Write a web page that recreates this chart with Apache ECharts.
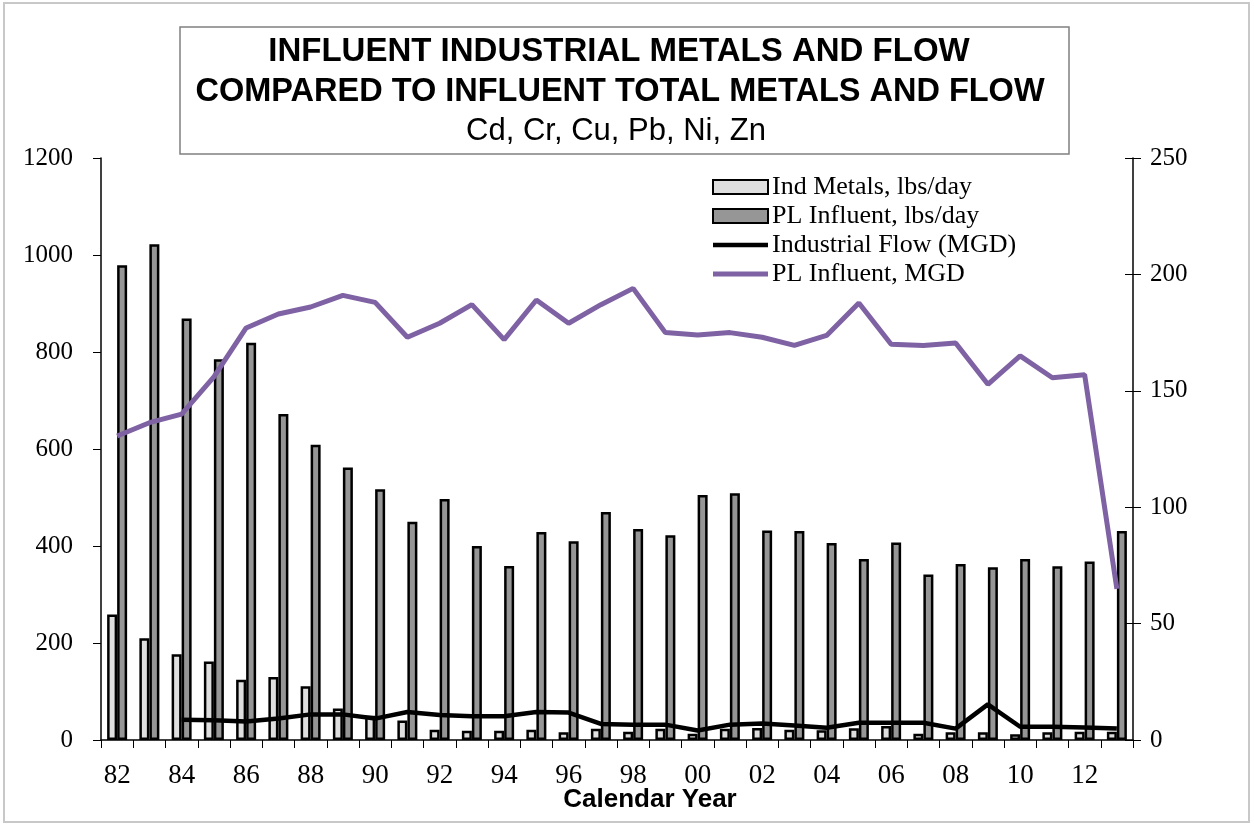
<!DOCTYPE html>
<html>
<head>
<meta charset="utf-8">
<script src="https://cdn.jsdelivr.net/npm/echarts@6/dist/echarts.min.js"></script>
<style>
html,body{margin:0;padding:0;background:#fff;}
#chart{width:1254px;height:825px;}
</style>
</head>
<body>
<div id="chart"></div>
<script>
// Calendar years (category tick labels)
const years = ['82','83','84','85','86','87','88','89','90','91','92','93','94','95','96','97','98','99','00','01','02','03','04','05','06','07','08','09','10','11','12','13'];
// Ind Metals, lbs/day (left axis)
const indMetals = [259,210,177,162,124,130,111,65,50,40,21,19,19,21,16,23,17,23,13,23,25,21,20,24,29,13,16,16,12,16,17,17];
// PL Influent, lbs/day (left axis)
const plInfluentLbs = [979,1022,869,785,819,672,609,562,517,450,497,400,359,429,410,470,435,422,505,509,432,431,406,373,407,341,363,356,373,358,368,431];
// Industrial Flow (MGD) (right axis)
const industrialFlow = [null,null,8.7,8.5,7.9,9.2,11,11,9.2,12,10.7,10.2,10.2,12,11.8,6.9,6.6,6.6,4.1,6.6,7.1,6.2,5.3,7.4,7.4,7.4,4.9,15.3,5.7,5.7,5.4,4.9];
// PL Influent, MGD (right axis)
const plInfluentMgd = [130.6,136.3,140,156,177,183,186,191,188,173,179,187,172,189,179,187,194,175,174,175,173,169.5,173.8,187.7,170,169.5,170.5,152.8,165,155.6,156.9,64.9];

const SERIF = "'Liberation Serif', 'Times New Roman', serif";
const SANS = "'Liberation Sans', Arial, sans-serif";

const chart = echarts.init(document.getElementById('chart'), null, {renderer:'canvas'});
const option = {
  animation:false,
  backgroundColor:'#ffffff',
  graphic:[
    {type:'rect', shape:{x:4,y:3,width:1245,height:819}, style:{fill:'none', stroke:'#c8c8c8', lineWidth:2}, silent:true},
    {type:'rect', shape:{x:180,y:27,width:889,height:127}, style:{fill:'#fff', stroke:'#808080', lineWidth:1.5}, silent:true},
    {type:'text', x:619, y:52, style:{text:'INFLUENT INDUSTRIAL METALS AND FLOW', font:"bold 33px "+SANS, fill:'#000', align:'center', verticalAlign:'middle'}},
    {type:'text', x:620, y:92, style:{text:'COMPARED TO INFLUENT TOTAL METALS AND FLOW', font:"bold 32.5px "+SANS, fill:'#000', align:'center', verticalAlign:'middle'}},
    {type:'text', x:616, y:131, style:{text:'Cd, Cr, Cu, Pb, Ni, Zn', font:"31px "+SANS, fill:'#000', align:'center', verticalAlign:'middle'}},
    {type:'text', x:650, y:800, style:{text:'Calendar Year', font:"bold 26px "+SANS, fill:'#000', align:'center', verticalAlign:'middle'}}
  ],
  legend:{
    orient:'vertical', left:707, top:169, itemWidth:55, itemHeight:14, itemGap:3,
    symbolKeepAspect:true,
    textStyle:{fontFamily:SERIF, fontSize:26, lineHeight:26, color:'#000', padding:[0,0,0,-1]},
    data:[
      {name:'Ind Metals, lbs/day', icon:'rect'},
      {name:'PL Influent, lbs/day', icon:'rect'},
      {name:'Industrial Flow (MGD)', icon:'path://M0,0 L55,0 L55,4.5 L0,4.5 Z'},
      {name:'PL Influent, MGD', icon:'path://M0,0 L55,0 L55,5 L0,5 Z'}
    ]
  },
  grid:{left:101, right:121, top:158, bottom:85, containLabel:false},
  xAxis:{
    type:'category', data:years, boundaryGap:true,
    axisLine:{lineStyle:{color:'#000', width:1.5}},
    axisTick:{show:true, interval:0, alignWithLabel:false, length:8, lineStyle:{color:'#000'}},
    axisLabel:{interval:1, margin:22, fontFamily:SERIF, fontSize:27, color:'#000'},
    splitLine:{show:false}
  },
  yAxis:[
    {type:'value', position:'left', min:0, max:1200, interval:200,
     axisLine:{show:true, lineStyle:{color:'#000', width:1.5}},
     axisTick:{show:true, length:8, lineStyle:{color:'#000'}},
     axisLabel:{margin:28, fontFamily:SERIF, fontSize:25, color:'#000', formatter:function(v){return String(v);}},
     splitLine:{show:false}},
    {type:'value', position:'right', min:0, max:250, interval:50,
     axisLine:{show:true, lineStyle:{color:'#000', width:1.5}},
     axisTick:{show:true, length:8, lineStyle:{color:'#000'}},
     axisLabel:{margin:17, fontFamily:SERIF, fontSize:25, color:'#000', formatter:function(v){return String(v);}},
     splitLine:{show:false}},
    {type:'value', position:'right', min:0, max:250, interval:50,
     axisLine:{show:false},
     axisTick:{show:true, inside:true, length:8, lineStyle:{color:'#000'}},
     axisLabel:{show:false},
     splitLine:{show:false}}
  ],
  series:[
    {name:'Ind Metals, lbs/day', type:'bar', yAxisIndex:0, data:indMetals, barWidth:10, barGap:'0%',
     itemStyle:{color:'#dedede', borderColor:'#000', borderWidth:2.5}},
    {name:'PL Influent, lbs/day', type:'bar', yAxisIndex:0, data:plInfluentLbs, barWidth:10, barGap:'0%',
     itemStyle:{color:'#969696', borderColor:'#000', borderWidth:2.5}},
    {name:'Industrial Flow (MGD)', type:'line', yAxisIndex:1, data:industrialFlow, symbol:'none', showSymbol:false, z:5,
     lineStyle:{color:'#000', width:4.5}, itemStyle:{color:'#000'}},
    {name:'PL Influent, MGD', type:'line', yAxisIndex:1, data:plInfluentMgd, symbol:'none', showSymbol:false, z:6,
     lineStyle:{color:'#7f62a3', width:5}, itemStyle:{color:'#7f62a3'}}
  ]
};
chart.setOption(option);
</script>
</body>
</html>
